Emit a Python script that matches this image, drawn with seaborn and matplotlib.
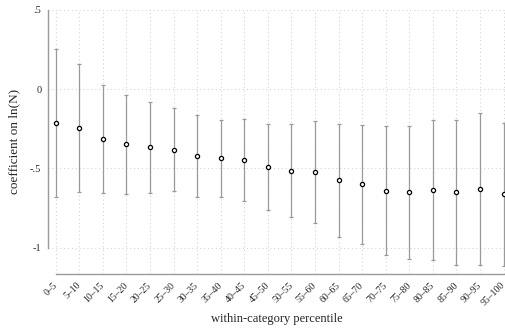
import numpy as np
import pandas as pd
import matplotlib
matplotlib.use("Agg")
import matplotlib.pyplot as plt
import matplotlib.transforms as mtransforms
import seaborn as sns

categories = ["0–5", "5–10", "10–15", "15–20", "20–25", "25–30", "30–35", "35–40",
              "40–45", "45–50", "50–55", "55–60", "60–65", "65–70", "70–75", "75–80",
              "80–85", "85–90", "90–95", "95–100"]
coef = [-0.214, -0.246, -0.313, -0.347, -0.366, -0.383, -0.422, -0.437, -0.448, -0.488,
        -0.513, -0.523, -0.574, -0.599, -0.641, -0.651, -0.637, -0.651, -0.630, -0.662]
ci_upper = [0.252, 0.158, 0.027, -0.036, -0.078, -0.120, -0.164, -0.195, -0.187, -0.218,
            -0.217, -0.200, -0.217, -0.223, -0.233, -0.233, -0.195, -0.193, -0.147, -0.212]
ci_lower = [-0.681, -0.649, -0.653, -0.658, -0.653, -0.643, -0.679, -0.679, -0.706, -0.761,
            -0.809, -0.847, -0.931, -0.975, -1.048, -1.071, -1.076, -1.111, -1.111, -1.115]
yticks = [0.5, 0, -0.5, -1]
ytick_labels = [".5", "0", "-.5", "-1"]

df = pd.DataFrame({"pct": categories, "coef": coef, "lo": ci_lower, "hi": ci_upper})
df["pos"] = np.arange(len(df))

sns.set_style("white")
plt.rcParams["font.family"] = ["Liberation Serif", "DejaVu Serif"]

fig = plt.figure(figsize=(5.06, 3.31), dpi=100)
ax = fig.add_axes([0.0955, 0.173, 0.9045, 0.797])

grid_kw = dict(color="#d4d4d4", linestyle=(0, (1, 2.5)), linewidth=0.8, zorder=0)
for y in yticks:
    ax.axhline(y, **grid_kw)
for x in df["pos"]:
    ax.axvline(x, **grid_kw)

ax.errorbar(df["pos"], df["coef"],
            yerr=[df["coef"] - df["lo"], df["hi"] - df["coef"]],
            fmt="none", ecolor="#9a9a9a", elinewidth=0.9, capsize=1.5, capthick=0.9,
            zorder=2)
sns.scatterplot(data=df, x="pos", y="coef", ax=ax, marker="o", s=9,
                facecolor="white", edgecolor="black", linewidth=0.9, zorder=3)

ax.set_xlim(-0.31, 19.1)
ax.set_ylim(-1.164, 0.5)
ax.set_xticks(df["pos"])
ax.set_xticklabels(categories, rotation=45, ha="right", rotation_mode="anchor",
                   fontsize=7)
ax.set_yticks(yticks)
ax.set_yticklabels(ytick_labels, fontsize=7.5)

for side in ["top", "right"]:
    ax.spines[side].set_visible(False)
for side in ["left", "bottom"]:
    ax.spines[side].set_color("#9a9a9a")
    ax.spines[side].set_linewidth(1.0)
ax.spines["left"].set_bounds(-1, 0.5)
ax.spines["bottom"].set_bounds(0, 19)
ax.tick_params(axis="both", direction="out", length=3, width=1.0, color="#9a9a9a",
               pad=2)

# nudge the rotated tick labels a little to the left so they sit under the ticks
shift = mtransforms.ScaledTranslation(-3 / 100, 0, fig.dpi_scale_trans)
for lbl in ax.get_xticklabels():
    lbl.set_transform(lbl.get_transform() + shift)

ax.set_xlabel("within-category percentile", fontsize=9, labelpad=4)
ax.set_ylabel("coefficient on ln(N)", fontsize=9.5, labelpad=7)

fig.savefig("out.png", dpi=100)
